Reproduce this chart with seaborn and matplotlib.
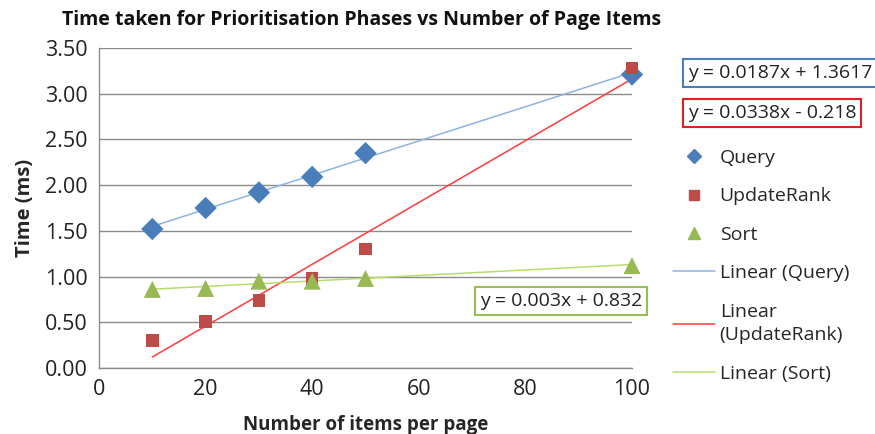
import numpy as np
import pandas as pd
import matplotlib
matplotlib.use("Agg")
import matplotlib.pyplot as plt
import seaborn as sns
from matplotlib.lines import Line2D

items = [10, 20, 30, 40, 50, 100]
query = [1.52, 1.75, 1.92, 2.09, 2.35, 3.21]
update_rank = [0.30, 0.51, 0.74, 0.98, 1.30, 3.28]
sort_vals = [0.86, 0.87, 0.95, 0.95, 0.98, 1.12]

series_names = ["Query", "UpdateRank", "Sort"]
slopes = [0.0187, 0.0338, 0.003]
intercepts = [1.3617, -0.218, 0.832]
equations = ["y = 0.0187x + 1.3617", "y = 0.0338x - 0.218", "y = 0.003x + 0.832"]

marker_colors = ["#4a7ebb", "#be4b48", "#98b954"]
line_colors = ["#8eb4e3", "#ff3b3b", "#b8dc6c"]
box_colors = ["#4a7ebb", "#e02020", "#9bbb59"]
markers = ["D", "s", "^"]
marker_sizes = [130, 80, 150]

x_ticks = [0, 20, 40, 60, 80, 100]
y_ticks = [0.0, 0.5, 1.0, 1.5, 2.0, 2.5, 3.0, 3.5]

sns.set_theme(style="white")
plt.rcParams["font.family"] = ["Open Sans", "DejaVu Sans"]

df = pd.DataFrame({
    "items": items * 3,
    "time": query + update_rank + sort_vals,
    "series": sum([[n] * len(items) for n in series_names], []),
})

fig = plt.figure(figsize=(8.75, 4.34), dpi=100)
ax = fig.add_axes([99 / 875, 1 - 368 / 434, (632 - 99) / 875, (368 - 48) / 434])

for i, name in enumerate(series_names):
    xs = np.array([items[0], items[-1]])
    ax.plot(xs, slopes[i] * xs + intercepts[i], color=line_colors[i], lw=1.1, zorder=2)

for i, name in enumerate(series_names):
    sub = df[df["series"] == name]
    sns.scatterplot(data=sub, x="items", y="time", marker=markers[i], s=marker_sizes[i],
                    color=marker_colors[i], edgecolor="none", ax=ax, zorder=3, legend=False,
                    clip_on=False)

ax.set_xlim(0, 100)
ax.set_ylim(0, 3.5)
ax.set_xticks(x_ticks)
ax.set_yticks(y_ticks)
ax.set_yticklabels([f"{v:.2f}" for v in y_ticks])
ax.yaxis.grid(True, color="#8c8c8c", lw=1)
ax.xaxis.grid(False)
ax.set_axisbelow(True)
for s in ["top", "right"]:
    ax.spines[s].set_visible(False)
for s in ["left", "bottom"]:
    ax.spines[s].set_color("#8c8c8c")
    ax.spines[s].set_linewidth(1)
ax.tick_params(axis="both", which="both", direction="out", length=5, color="#8c8c8c",
               labelsize=15.5, labelcolor="#222222", pad=3)
ax.set_xlabel("Number of items per page", fontsize=13.5, fontweight="bold", labelpad=11)
ax.set_ylabel("Time (ms)", fontsize=14.5, fontweight="bold", labelpad=7)
fig.text(362 / 875, 1 - 20 / 434, "Time taken for Prioritisation Phases vs Number of Page Items",
         ha="center", va="center", fontsize=14, fontweight="bold", color="#111111")

# equation boxes
eq_pos = [(688, 73), (688, 113), (480, 301)]
for i in range(3):
    fig.text(eq_pos[i][0] / 875, 1 - eq_pos[i][1] / 434, equations[i], ha="left", va="center",
             fontsize=14, color="#222222",
             bbox=dict(boxstyle="square,pad=0.25", fc="white", ec=box_colors[i], lw=1.5))

handles = []
for i, name in enumerate(series_names):
    handles.append(Line2D([], [], ls="none", marker=markers[i], color=marker_colors[i],
                          markersize=[7, 7, 9][i], label=name))
lin_labels = ["Linear (Query)", "Linear\n(UpdateRank)", "Linear (Sort)"]
for i in range(3):
    handles.append(Line2D([], [], color=line_colors[i], lw=1.1, label=lin_labels[i]))
leg = fig.legend(handles=handles, loc="upper left", bbox_to_anchor=(673 / 875, 1 - 149 / 434),
                 frameon=False, fontsize=14, handlelength=2.15, handletextpad=0.25,
                 labelspacing=1.05, borderaxespad=0, borderpad=0)
for t in leg.get_texts():
    t.set_linespacing(1.4)

fig.savefig("out.png", dpi=100)
